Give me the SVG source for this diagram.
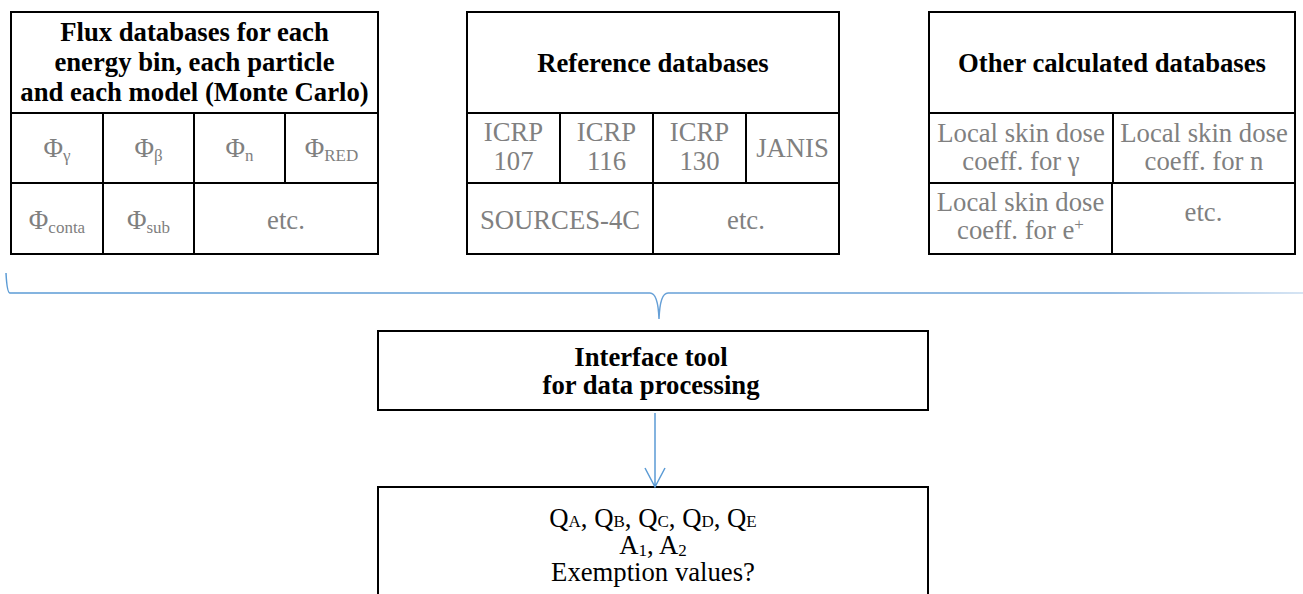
<svg xmlns="http://www.w3.org/2000/svg" width="1303" height="594" viewBox="0 0 1303 594" font-family="Liberation Serif, Times New Roman, Tinos, DejaVu Serif, serif">
<defs>
<style>
.box{fill:#fff;stroke:#000;stroke-width:2}
.ln{stroke:#000;stroke-width:2;fill:none}
text{font-family:"Liberation Serif","Times New Roman",Tinos,"DejaVu Serif",serif;font-size:26.7px;text-anchor:middle}
.b{font-weight:bold;fill:#000}
.g{fill:#808080}
.k{fill:#000}
.sub{font-size:17px}
.conn{fill:none;stroke:#5b9bd5;stroke-width:1.5}
</style>
<linearGradient id="fade" gradientUnits="userSpaceOnUse" x1="0" y1="0" x2="1303" y2="0">
<stop offset="0" stop-color="#5b9bd5"/>
<stop offset="0.85" stop-color="#6ea3d8"/>
<stop offset="1" stop-color="#c9dcf0"/>
</linearGradient>
</defs>

<g id="flux-databases">
<rect class="box" x="11" y="12" width="367" height="242"/>
<path class="ln" d="M11 113H378M11 183H378M103 113V254M194 113V254M285 113V183"/>
<text class="b" x="194.5" y="41">Flux databases for each</text>
<text class="b" x="194.5" y="71">energy bin, each particle</text>
<text class="b" x="194.5" y="101">and each model (Monte Carlo)</text>
<text class="g" x="57" y="157">Φ<tspan class="sub" dy="4">γ</tspan></text>
<text class="g" x="148.5" y="157">Φ<tspan class="sub" dy="4">β</tspan></text>
<text class="g" x="239.5" y="157">Φ<tspan class="sub" dy="4">n</tspan></text>
<text class="g" x="331.5" y="157">Φ<tspan class="sub" dy="4">RED</tspan></text>
<text class="g" x="57" y="229">Φ<tspan class="sub" dy="4">conta</tspan></text>
<text class="g" x="148.5" y="229">Φ<tspan class="sub" dy="4">sub</tspan></text>
<text class="g" x="286" y="229">etc.</text>
</g>

<g id="reference-databases">
<rect class="box" x="467" y="12" width="372" height="242"/>
<path class="ln" d="M467 113H839M467 183H839M653 113V254M560 113V183M746 113V183"/>
<text class="b" x="653" y="72">Reference databases</text>
<text class="g" x="513.5" y="141">ICRP</text>
<text class="g" x="513.5" y="170">107</text>
<text class="g" x="606.5" y="141">ICRP</text>
<text class="g" x="606.5" y="170">116</text>
<text class="g" x="699.5" y="141">ICRP</text>
<text class="g" x="699.5" y="170">130</text>
<text class="g" x="792.5" y="157">JANIS</text>
<text class="g" x="560" y="229">SOURCES-4C</text>
<text class="g" x="746" y="229">etc.</text>
</g>

<g id="other-databases">
<rect class="box" x="929" y="12" width="366" height="242"/>
<path class="ln" d="M929 113H1295M929 183H1295M1113 113V183M1112 183V254"/>
<text class="b" x="1112" y="72">Other calculated databases</text>
<text class="g" x="1021" y="142">Local skin dose</text>
<text class="g" x="1021" y="170">coeff. for γ</text>
<text class="g" x="1204" y="142">Local skin dose</text>
<text class="g" x="1204" y="170">coeff. for n</text>
<text class="g" x="1020.5" y="211">Local skin dose</text>
<text class="g" x="1020.5" y="239">coeff. for e<tspan class="sub" dy="-9">+</tspan></text>
<text class="g" x="1203.5" y="221">etc.</text>
</g>

<g id="interface-tool">
<rect class="box" x="378" y="331" width="550" height="79"/>
<text class="b" x="651" y="366">Interface tool</text>
<text class="b" x="651" y="394">for data processing</text>
</g>

<g id="outputs">
<rect class="box" x="378" y="487" width="550" height="120"/>
<text class="k" x="653" y="527">Q<tspan class="sub">A</tspan>, Q<tspan class="sub">B</tspan>, Q<tspan class="sub">C</tspan>, Q<tspan class="sub">D</tspan>, Q<tspan class="sub">E</tspan></text>
<text class="k" x="653" y="554">A<tspan class="sub" dy="2">1</tspan><tspan dy="-2">, A</tspan><tspan class="sub" dy="2">2</tspan></text>
<text class="k" x="653" y="581">Exemption values?</text>
</g>

<g id="connectors">
<path class="conn" style="stroke:url(#fade)" d="M6 273Q7 293 10 293L650 293Q658 293 659 319Q660 293 668 293L1303 293"/>
<path class="conn" d="M655 413V487M645 468L655 487L665 468"/>
</g>
</svg>
